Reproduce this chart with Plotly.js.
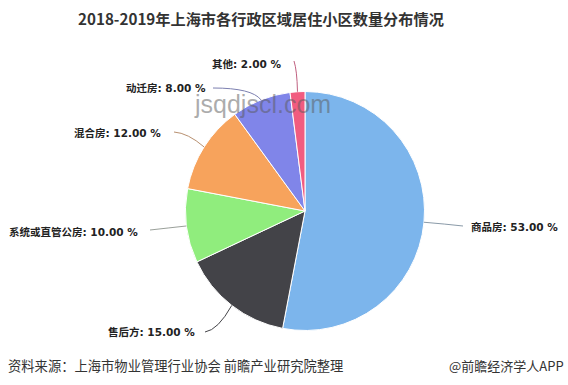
<!DOCTYPE html>
<html>
<head>
<meta charset="utf-8">
<script src="https://cdn.plot.ly/plotly-3.0.1.min.js"></script>
<style>html,body{margin:0;padding:0;background:#fff;}#chart{width:568px;height:385px;}</style>
</head>
<body>
<div id="chart"></div>
<script>
// ---- data ----
const categories = ["商品房", "售后方", "系统或直管公房", "混合房", "动迁房", "其他"];
const shares = [53, 15, 10, 12, 8, 2];
const colors = ["#7cb5ec", "#434348", "#90ed7d", "#f7a35c", "#8085e9", "#f15c80"];
const titleText = "2018-2019年上海市各行政区域居住小区数量分布情况";
const sourceText = "资料来源：上海市物业管理行业协会 前瞻产业研究院整理";
const brandText = "@前瞻经济学人APP";
const watermarkText = "jsqdjscl.com";

// ---- layout geometry (pixels) ----
const W = 568, H = 385;
const CX = 305, CY = 211, R = 119.5;
// label anchor: [x, y, side] ; connector start near label, control point
const labelLayout = [
  {x: 469, y: 227, side: "left",  start: [463, 226], ctrl: [445, 224]},
  {x: 197, y: 332, side: "right", start: [205, 332], ctrl: [218, 330]},
  {x: 140, y: 232, side: "right", start: [150, 230], ctrl: [168, 228]},
  {x: 163, y: 133, side: "right", start: [174, 132], ctrl: [188, 133]},
  {x: 208, y: 88,  side: "right", start: [213, 88],  ctrl: [252, 88]},
  {x: 283, y: 64,  side: "right", start: [294, 61],  ctrl: [297, 70]}
];
const connectorColors = ["#8a9aa8", "#444448", "#9aa09a", "#b89070", "#7c7fb0", "#c06080"];

const px = x => x / W;
const py = y => 1 - y / H;

const total = shares.reduce((a, b) => a + b, 0);
let cum = 0;
const annotations = [];
const shapes = [];
shares.forEach((v, i) => {
  const mid = (cum + v / 2) / total * 2 * Math.PI; // clockwise from 12 o'clock
  cum += v;
  const ex = CX + R * Math.sin(mid);
  const ey = CY - R * Math.cos(mid);
  const L = labelLayout[i];
  annotations.push({
    xref: "paper", yref: "paper", x: px(L.x), y: py(L.y),
    xanchor: L.side, yanchor: "middle", showarrow: false,
    text: categories[i] + ": " + v.toFixed(2) + " %",
    font: {family: "DejaVu Sans, Noto Sans CJK SC, sans-serif", size: 10.5, color: "#222", weight: "bold"}
  });
  shapes.push({
    type: "path", xref: "paper", yref: "paper", layer: "above",
    path: "M " + px(L.start[0]) + "," + py(L.start[1]) +
          " Q " + px(L.ctrl[0]) + "," + py(L.ctrl[1]) +
          " " + px(ex) + "," + py(ey),
    line: {color: connectorColors[i], width: 1}
  });
});

// title, footer, watermark
annotations.push({
  xref: "paper", yref: "paper", x: px(261), y: py(18), xanchor: "center", yanchor: "middle",
  showarrow: false, text: "<b>" + titleText + "</b>",
  font: {family: "Noto Sans CJK SC, sans-serif", size: 15.2, color: "#333"}
});
annotations.push({
  xref: "paper", yref: "paper", x: px(6), y: py(365), xanchor: "left", yanchor: "middle",
  showarrow: false, text: sourceText,
  font: {family: "Noto Sans CJK SC, sans-serif", size: 13.3, color: "#333"}
});
annotations.push({
  xref: "paper", yref: "paper", x: px(566), y: py(365), xanchor: "right", yanchor: "middle",
  showarrow: false, text: brandText,
  font: {family: "Noto Sans CJK SC, sans-serif", size: 13, color: "#333"}
});
annotations.push({
  xref: "paper", yref: "paper", x: px(262), y: py(104), xanchor: "center", yanchor: "middle",
  showarrow: false, text: watermarkText,
  font: {family: "Liberation Sans, Arial, sans-serif", size: 25, color: "rgba(90,90,90,0.5)"}
});

const trace = {
  type: "pie",
  labels: categories,
  values: shares,
  sort: false,
  direction: "clockwise",
  rotation: 0,
  textinfo: "none",
  hoverinfo: "label+percent",
  marker: {colors: colors, line: {color: "#ffffff", width: 1}},
  domain: {x: [px(CX - R), px(CX + R)], y: [py(CY + R), py(CY - R)]},
  showlegend: false
};

const layout = {
  width: W, height: H,
  margin: {l: 0, r: 0, t: 0, b: 0},
  paper_bgcolor: "#ffffff",
  showlegend: false,
  annotations: annotations,
  shapes: shapes
};

Plotly.newPlot("chart", [trace], layout, {displayModeBar: false, staticPlot: true});
</script>
</body>
</html>
